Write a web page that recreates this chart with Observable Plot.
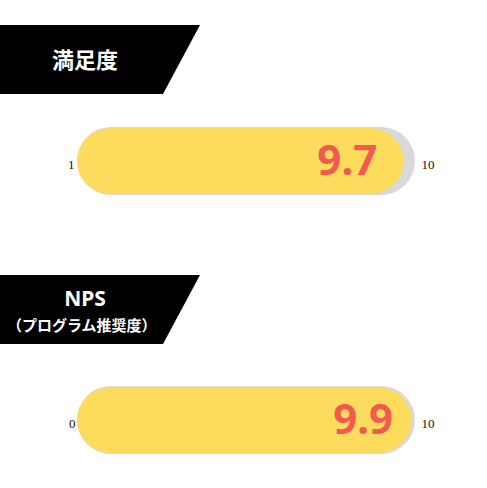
<!DOCTYPE html>
<html>
<head>
<meta charset="utf-8">
<script src="https://cdn.jsdelivr.net/npm/d3@7"></script>
<script src="https://cdn.jsdelivr.net/npm/@observablehq/plot@0.6"></script>
<style>
  html, body { margin: 0; padding: 0; background: #fff; }
  #root { position: relative; width: 487px; height: 488px; overflow: hidden; }
  .hdr { position: absolute; left: 0; width: 200px; height: 69px; background: #000;
         clip-path: polygon(0 0, 200px 0, 163px 100%, 0 100%); color: #fff;
         font-family: "Noto Sans CJK JP", "Noto Sans", sans-serif; font-weight: bold; }
  .hdr div { position: absolute; left: 0; width: 170px; text-align: center; white-space: nowrap; }
  .plotbox { position: absolute; left: 0; }
</style>
</head>
<body>
<div id="root"></div>
<script>
// ---- data ----
const titles = ["満足度", "NPS"];
const subtitles = ["", "（プログラム推奨度）"];
const scaleMins = [1, 0];
const scaleMaxs = [10, 10];
const values = [9.7, 9.9];
const minLabels = ["1", "0"];
const maxLabels = ["10", "10"];

// ---- layout / style ----
const root = document.getElementById("root");
const headerTops = [25, 275];
const barTops = [127, 386];
const valueDx = [-27, -19];
const minDx = [-3, -2];

function header(i) {
  const h = document.createElement("div");
  h.className = "hdr";
  h.style.top = headerTops[i] + "px";
  if (subtitles[i]) {
    const t = document.createElement("div");
    t.textContent = titles[i];
    t.style.fontSize = "21px"; t.style.top = "9px"; t.style.fontFamily = "'Noto Sans', sans-serif";
    const s = document.createElement("div");
    s.textContent = subtitles[i];
    s.style.fontSize = "15px"; s.style.top = "39px"; s.style.left = "7px"; s.style.width = "auto";
    h.appendChild(t); h.appendChild(s);
  } else {
    const t = document.createElement("div");
    t.textContent = titles[i];
    t.style.fontSize = "22px"; t.style.top = "18px"; t.style.lineHeight = "30px";
    h.appendChild(t);
  }
  root.appendChild(h);
}

function bar(i) {
  const row = [{min: scaleMins[i], max: scaleMaxs[i], value: values[i],
                minLabel: minLabels[i], maxLabel: maxLabels[i]}];
  const chart = Plot.plot({
    width: 487,
    height: 68,
    marginTop: 0, marginBottom: 0, marginLeft: 77, marginRight: 72,
    x: {domain: [scaleMins[i], scaleMaxs[i]], axis: null},
    marks: [
      Plot.barX(row, {x1: "min", x2: "max", fill: "#d9d9d9", rx: 34}),
      Plot.barX(row, {x1: "min", x2: "value", fill: "#fddb5c", rx: 34, insetTop: 1, insetBottom: 1}),
      Plot.text(row, {x: "value", text: d => d3.format(".1f")(d.value), frameAnchor: "middle",
        textAnchor: "end", dx: valueDx[i], fill: "#f25a50", fontSize: 42, fontWeight: "bold",
        fontFamily: "'Noto Sans', sans-serif"}),
      Plot.text(row, {x: "min", text: "minLabel", frameAnchor: "middle", textAnchor: "end",
        dx: minDx[i], dy: 3, fill: "#111", fontSize: 13, fontFamily: "'Liberation Serif', serif"}),
      Plot.text(row, {x: "max", text: "maxLabel", frameAnchor: "middle", textAnchor: "start",
        dx: 6, dy: 3, fill: "#111", fontSize: 13, fontFamily: "'Liberation Serif', serif"})
    ]
  });
  const box = document.createElement("div");
  box.className = "plotbox";
  box.style.top = barTops[i] + "px";
  box.appendChild(chart);
  root.appendChild(box);
}

for (let i = 0; i < titles.length; i++) { header(i); bar(i); }
</script>
</body>
</html>
